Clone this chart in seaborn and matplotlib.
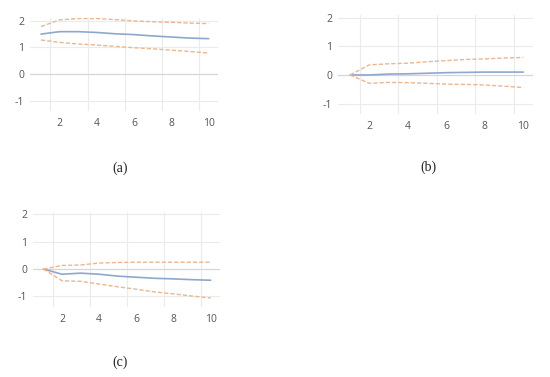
import numpy as np
import pandas as pd
import matplotlib
matplotlib.use("Agg")
import matplotlib.pyplot as plt
import seaborn as sns

periods = [1, 2, 3, 4, 5, 6, 7, 8, 9, 10]

a_resp = [1.50, 1.59, 1.59, 1.56, 1.51, 1.48, 1.43, 1.39, 1.35, 1.33]
a_upper = [1.78, 2.03, 2.08, 2.08, 2.04, 1.99, 1.96, 1.94, 1.91, 1.89]
a_lower = [1.28, 1.19, 1.13, 1.09, 1.04, 0.99, 0.95, 0.90, 0.85, 0.79]

b_resp = [0.00, 0.00, 0.03, 0.04, 0.06, 0.08, 0.09, 0.10, 0.10, 0.10]
b_upper = [0.00, 0.35, 0.39, 0.41, 0.46, 0.50, 0.54, 0.56, 0.59, 0.61]
b_lower = [0.00, -0.29, -0.26, -0.27, -0.29, -0.32, -0.33, -0.35, -0.39, -0.44]

c_resp = [0.00, -0.19, -0.15, -0.19, -0.26, -0.30, -0.34, -0.36, -0.39, -0.41]
c_upper = [0.00, 0.13, 0.15, 0.22, 0.24, 0.25, 0.25, 0.25, 0.25, 0.25]
c_lower = [0.00, -0.43, -0.45, -0.55, -0.65, -0.74, -0.84, -0.91, -0.99, -1.06]

panel_labels = ["(a)", "(b)", "(c)"]
y_ticks = [-1, 0, 1, 2]
x_ticks = [2, 4, 6, 8, 10]

sns.set_theme(style="white")
plt.rcParams['font.family'] = ['Open Sans', 'DejaVu Sans']
plt.rcParams['axes.unicode_minus'] = False

W, H = 550, 377
fig = plt.figure(figsize=(W / 100, H / 100), dpi=100)

# (left px, top px, right px, bottom px, xlim, ylim, label x, label y)
layouts = [
    (30, 18, 218, 111, (0.41, 10.5), (-1.37, 2.1), 120, 168),
    (338, 14.7, 533, 113.7, (0.375, 10.5), (-1.35, 2.1), 428, 167),
    (33, 211.7, 220, 307, (0.44, 10.5), (-1.39, 2.1), 120, 362),
]
series = [
    (a_resp, a_upper, a_lower),
    (b_resp, b_upper, b_lower),
    (c_resp, c_upper, c_lower),
]

blue = "#8ea8cc"
orange = "#ebb690"

for (l, t, r, b, xl, yl, lx, ly), (resp, up, lo), lab in zip(layouts, series, panel_labels):
    ax = fig.add_axes([l / W, 1 - b / H, (r - l) / W, (b - t) / H])
    df = pd.DataFrame({
        "period": periods * 3,
        "value": resp + up + lo,
        "series": ["resp"] * 10 + ["upper"] * 10 + ["lower"] * 10,
    })
    for x in [1.5, 3.5, 5.5, 7.5, 9.5]:
        ax.axvline(x, color="#ebebeb", lw=0.8, zorder=0)
    for y in y_ticks:
        ax.axhline(y, color="#d6d6d6" if y == 0 else "#ebebeb", lw=0.9 if y == 0 else 0.8, zorder=0)
    sns.lineplot(data=df[df.series == "resp"], x="period", y="value", ax=ax,
                 color=blue, lw=1.2, legend=False)
    for s in ["upper", "lower"]:
        sns.lineplot(data=df[df.series == s], x="period", y="value", ax=ax,
                     color=orange, lw=1.0, linestyle=(0, (3, 1.5)), legend=False)
    ax.set_xlim(*xl)
    ax.set_ylim(*yl)
    ax.set_xticks(x_ticks)
    ax.set_yticks(y_ticks)
    ax.set_xlabel("")
    ax.set_ylabel("")
    ax.tick_params(axis="both", length=0, labelsize=7.5, labelcolor="#555555")
    ax.tick_params(axis="x", pad=5)
    ax.tick_params(axis="y", pad=4)
    for sp in ax.spines.values():
        sp.set_visible(False)
    ax.patch.set_alpha(0)
    fig.text(lx / W, 1 - ly / H, lab, ha="center", va="center", fontsize=10,
             family=["Liberation Serif", "DejaVu Serif"], color="#222222")

fig.savefig("out.png", dpi=100)
